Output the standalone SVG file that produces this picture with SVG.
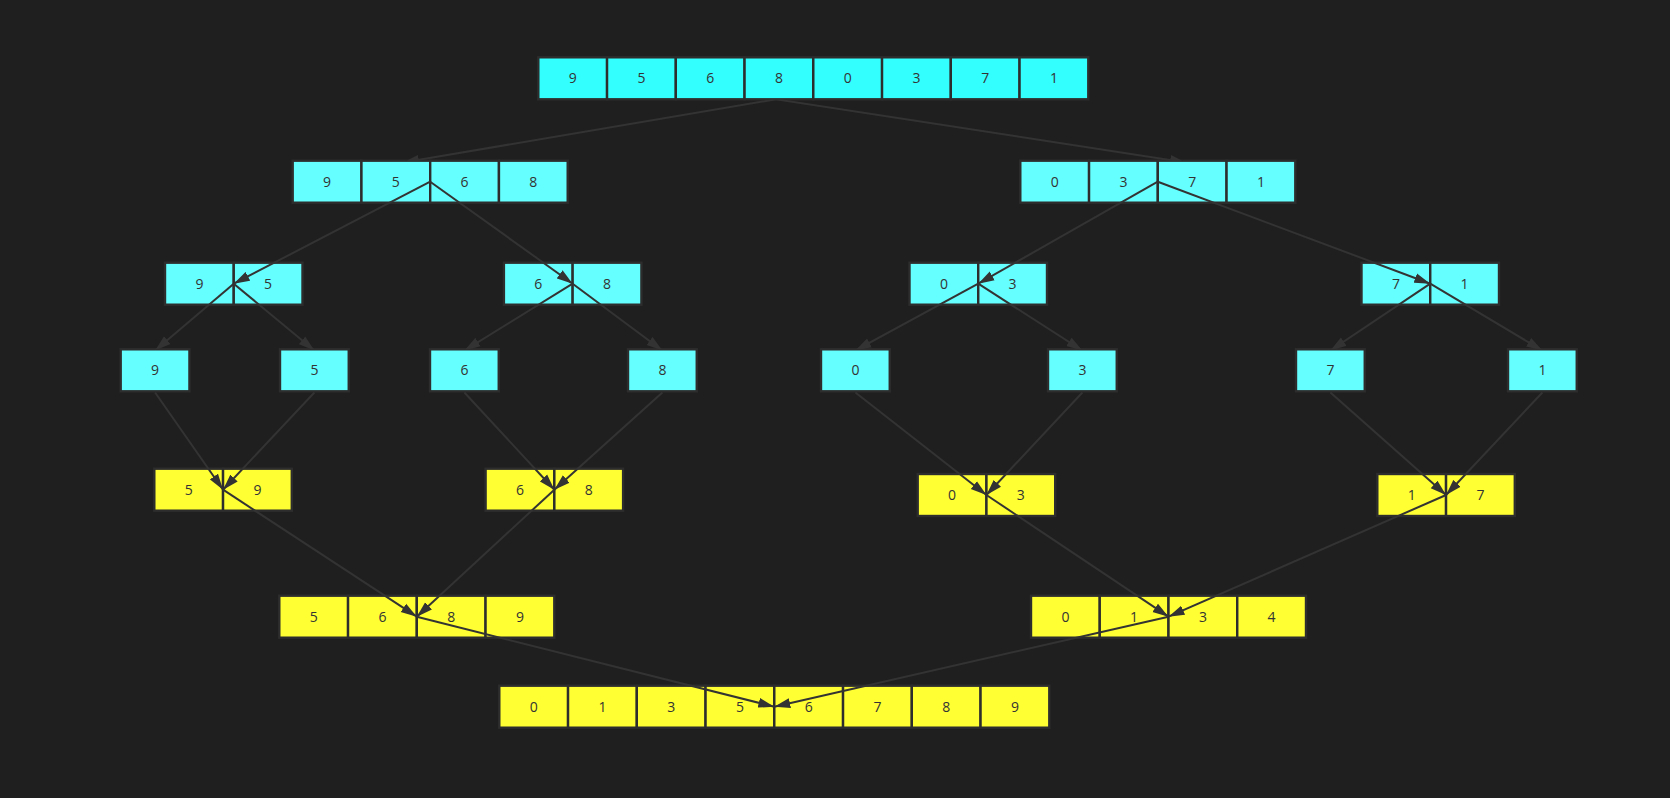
<svg xmlns="http://www.w3.org/2000/svg" width="1670" height="798" viewBox="0 0 1670 798">
<style>
.c1{fill:#33ffff;stroke:#2d2d2d;stroke-width:2.4}
.c2{fill:#66ffff;stroke:#2d2d2d;stroke-width:2.4}
.y{fill:#ffff33;stroke:#2d2d2d;stroke-width:2.4}
text{font-family:"Open Sans","Noto Sans","DejaVu Sans",sans-serif;font-size:14px;fill:#333;text-anchor:middle}
.e{fill:none;stroke:#333;stroke-width:2;marker-end:url(#ah)}
</style>
<defs>
<marker id="ah" markerUnits="userSpaceOnUse" markerWidth="16" markerHeight="11" refX="16" refY="5.5" orient="auto" viewBox="0 0 16 11">
<path d="M0,0.5 L16,5.5 L0,10.5 z" fill="#333"/>
</marker>
<clipPath id="clipA"><rect x="0" y="99.3" width="1670" height="61.4"/></clipPath>
<clipPath id="clipB"><rect x="0" y="0" width="1670" height="349.3"/></clipPath>
</defs>
<rect width="1670" height="798" fill="#1f1f1f"/>

<g id="n-root">
<rect class="c1" x="538.3" y="57.3" width="68.75" height="42"/>
<rect class="c1" x="607.05" y="57.3" width="68.75" height="42"/>
<rect class="c1" x="675.8" y="57.3" width="68.75" height="42"/>
<rect class="c1" x="744.55" y="57.3" width="68.75" height="42"/>
<rect class="c1" x="813.3" y="57.3" width="68.75" height="42"/>
<rect class="c1" x="882.05" y="57.3" width="68.75" height="42"/>
<rect class="c1" x="950.8" y="57.3" width="68.75" height="42"/>
<rect class="c1" x="1019.55" y="57.3" width="68.75" height="42"/>
<text x="572.7" y="83.3">9</text><text x="641.4" y="83.3">5</text><text x="710.2" y="83.3">6</text><text x="778.9" y="83.3">8</text>
<text x="847.7" y="83.3">0</text><text x="916.4" y="83.3">3</text><text x="985.2" y="83.3">7</text><text x="1053.9" y="83.3">1</text>
</g>

<g id="n-l">
<rect class="c2" x="292.7" y="160.7" width="68.75" height="42"/>
<rect class="c2" x="361.45" y="160.7" width="68.75" height="42"/>
<rect class="c2" x="430.2" y="160.7" width="68.75" height="42"/>
<rect class="c2" x="498.95" y="160.7" width="68.75" height="42"/>
<text x="327.1" y="186.7">9</text><text x="395.8" y="186.7">5</text><text x="464.6" y="186.7">6</text><text x="533.3" y="186.7">8</text>
</g>
<g id="n-r">
<rect class="c2" x="1020.3" y="160.7" width="68.75" height="42"/>
<rect class="c2" x="1089.05" y="160.7" width="68.75" height="42"/>
<rect class="c2" x="1157.8" y="160.7" width="68.75" height="42"/>
<rect class="c2" x="1226.55" y="160.7" width="68.75" height="42"/>
<text x="1054.7" y="186.7">0</text><text x="1123.4" y="186.7">3</text><text x="1192.2" y="186.7">7</text><text x="1260.9" y="186.7">1</text>
</g>

<g id="n-ll">
<rect class="c2" x="165" y="262.7" width="68.75" height="42"/>
<rect class="c2" x="233.75" y="262.7" width="68.75" height="42"/>
<text x="199.4" y="288.7">9</text><text x="268.1" y="288.7">5</text>
</g>
<g id="n-lr">
<rect class="c2" x="503.9" y="262.7" width="68.75" height="42"/>
<rect class="c2" x="572.65" y="262.7" width="68.75" height="42"/>
<text x="538.3" y="288.7">6</text><text x="607" y="288.7">8</text>
</g>
<g id="n-rl">
<rect class="c2" x="909.5" y="262.7" width="68.75" height="42"/>
<rect class="c2" x="978.25" y="262.7" width="68.75" height="42"/>
<text x="943.9" y="288.7">0</text><text x="1012.6" y="288.7">3</text>
</g>
<g id="n-rr">
<rect class="c2" x="1361.5" y="262.7" width="68.75" height="42"/>
<rect class="c2" x="1430.25" y="262.7" width="68.75" height="42"/>
<text x="1395.9" y="288.7">7</text><text x="1464.6" y="288.7">1</text>
</g>

<g id="s-9"><rect class="c2" x="120.7" y="349.3" width="68.75" height="42"/><text x="155.1" y="375.3">9</text></g>
<g id="s-5"><rect class="c2" x="280" y="349.3" width="68.75" height="42"/><text x="314.4" y="375.3">5</text></g>
<g id="s-6"><rect class="c2" x="430" y="349.3" width="68.75" height="42"/><text x="464.4" y="375.3">6</text></g>
<g id="s-8"><rect class="c2" x="628" y="349.3" width="68.75" height="42"/><text x="662.4" y="375.3">8</text></g>
<g id="s-0"><rect class="c2" x="821" y="349.3" width="68.75" height="42"/><text x="855.4" y="375.3">0</text></g>
<g id="s-3"><rect class="c2" x="1048" y="349.3" width="68.75" height="42"/><text x="1082.4" y="375.3">3</text></g>
<g id="s-7"><rect class="c2" x="1296" y="349.3" width="68.75" height="42"/><text x="1330.4" y="375.3">7</text></g>
<g id="s-1"><rect class="c2" x="1508" y="349.3" width="68.75" height="42"/><text x="1542.4" y="375.3">1</text></g>

<g id="m-59">
<rect class="y" x="154.3" y="468.7" width="68.75" height="42"/>
<rect class="y" x="223.05" y="468.7" width="68.75" height="42"/>
<text x="188.7" y="494.7">5</text><text x="257.4" y="494.7">9</text>
</g>
<g id="m-68">
<rect class="y" x="485.6" y="468.7" width="68.75" height="42"/>
<rect class="y" x="554.35" y="468.7" width="68.75" height="42"/>
<text x="520" y="494.7">6</text><text x="588.7" y="494.7">8</text>
</g>
<g id="m-03">
<rect class="y" x="917.7" y="474" width="68.75" height="42"/>
<rect class="y" x="986.45" y="474" width="68.75" height="42"/>
<text x="952.1" y="500">0</text><text x="1020.8" y="500">3</text>
</g>
<g id="m-17">
<rect class="y" x="1377.3" y="474" width="68.75" height="42"/>
<rect class="y" x="1446.05" y="474" width="68.75" height="42"/>
<text x="1411.7" y="500">1</text><text x="1480.4" y="500">7</text>
</g>

<g id="m-5689">
<rect class="y" x="279.3" y="595.7" width="68.75" height="42"/>
<rect class="y" x="348.05" y="595.7" width="68.75" height="42"/>
<rect class="y" x="416.8" y="595.7" width="68.75" height="42"/>
<rect class="y" x="485.55" y="595.7" width="68.75" height="42"/>
<text x="313.7" y="621.7">5</text><text x="382.4" y="621.7">6</text><text x="451.2" y="621.7">8</text><text x="519.9" y="621.7">9</text>
</g>
<g id="m-0134">
<rect class="y" x="1031" y="595.7" width="68.75" height="42"/>
<rect class="y" x="1099.75" y="595.7" width="68.75" height="42"/>
<rect class="y" x="1168.5" y="595.7" width="68.75" height="42"/>
<rect class="y" x="1237.25" y="595.7" width="68.75" height="42"/>
<text x="1065.4" y="621.7">0</text><text x="1134.1" y="621.7">1</text><text x="1202.9" y="621.7">3</text><text x="1271.6" y="621.7">4</text>
</g>

<g id="m-final">
<rect class="y" x="499.3" y="685.7" width="68.75" height="42"/>
<rect class="y" x="568.05" y="685.7" width="68.75" height="42"/>
<rect class="y" x="636.8" y="685.7" width="68.75" height="42"/>
<rect class="y" x="705.55" y="685.7" width="68.75" height="42"/>
<rect class="y" x="774.3" y="685.7" width="68.75" height="42"/>
<rect class="y" x="843.05" y="685.7" width="68.75" height="42"/>
<rect class="y" x="911.8" y="685.7" width="68.75" height="42"/>
<rect class="y" x="980.55" y="685.7" width="68.75" height="42"/>
<text x="533.7" y="711.7">0</text><text x="602.4" y="711.7">1</text><text x="671.2" y="711.7">3</text><text x="739.9" y="711.7">5</text>
<text x="808.7" y="711.7">6</text><text x="877.4" y="711.7">7</text><text x="946.2" y="711.7">8</text><text x="1014.9" y="711.7">9</text>
</g>

<g id="connectors">
<path class="e" clip-path="url(#clipA)" d="M776,99.3 L403,162.5"/>
<path class="e" clip-path="url(#clipA)" d="M776,99.3 L1186,162.5"/>
<path class="e" d="M430.2,181.7 L233.75,283.7"/>
<path class="e" d="M430.2,181.7 L572.65,283.7"/>
<path class="e" d="M1157.8,181.7 L978.25,283.7"/>
<path class="e" d="M1157.8,181.7 L1430.25,283.7"/>
<path class="e" clip-path="url(#clipB)" d="M233.75,283.7 L155.1,350.5"/>
<path class="e" clip-path="url(#clipB)" d="M233.75,283.7 L314.4,350.5"/>
<path class="e" clip-path="url(#clipB)" d="M572.65,283.7 L464.4,350.5"/>
<path class="e" clip-path="url(#clipB)" d="M572.65,283.7 L662.4,350.5"/>
<path class="e" clip-path="url(#clipB)" d="M978.25,283.7 L855.4,350.5"/>
<path class="e" clip-path="url(#clipB)" d="M978.25,283.7 L1082.4,350.5"/>
<path class="e" clip-path="url(#clipB)" d="M1430.25,283.7 L1330.4,350.5"/>
<path class="e" clip-path="url(#clipB)" d="M1430.25,283.7 L1542.4,350.5"/>
<path class="e" d="M155.1,392.5 L223.05,489.7"/>
<path class="e" d="M314.4,392.5 L223.05,489.7"/>
<path class="e" d="M464.4,392.5 L554.35,489.7"/>
<path class="e" d="M662.4,392.5 L554.35,489.7"/>
<path class="e" d="M855.4,392.5 L986.45,495"/>
<path class="e" d="M1082.4,392.5 L986.45,495"/>
<path class="e" d="M1330.4,392.5 L1446.05,495"/>
<path class="e" d="M1542.4,392.5 L1446.05,495"/>
<path class="e" d="M223.05,489.7 L416.8,616.7"/>
<path class="e" d="M554.35,489.7 L416.8,616.7"/>
<path class="e" d="M986.45,495 L1168.5,616.7"/>
<path class="e" d="M1446.05,495 L1168.5,616.7"/>
<path class="e" d="M416.8,616.7 L774.3,706.7"/>
<path class="e" d="M1168.5,616.7 L774.3,706.7"/>
</g>
</svg>
